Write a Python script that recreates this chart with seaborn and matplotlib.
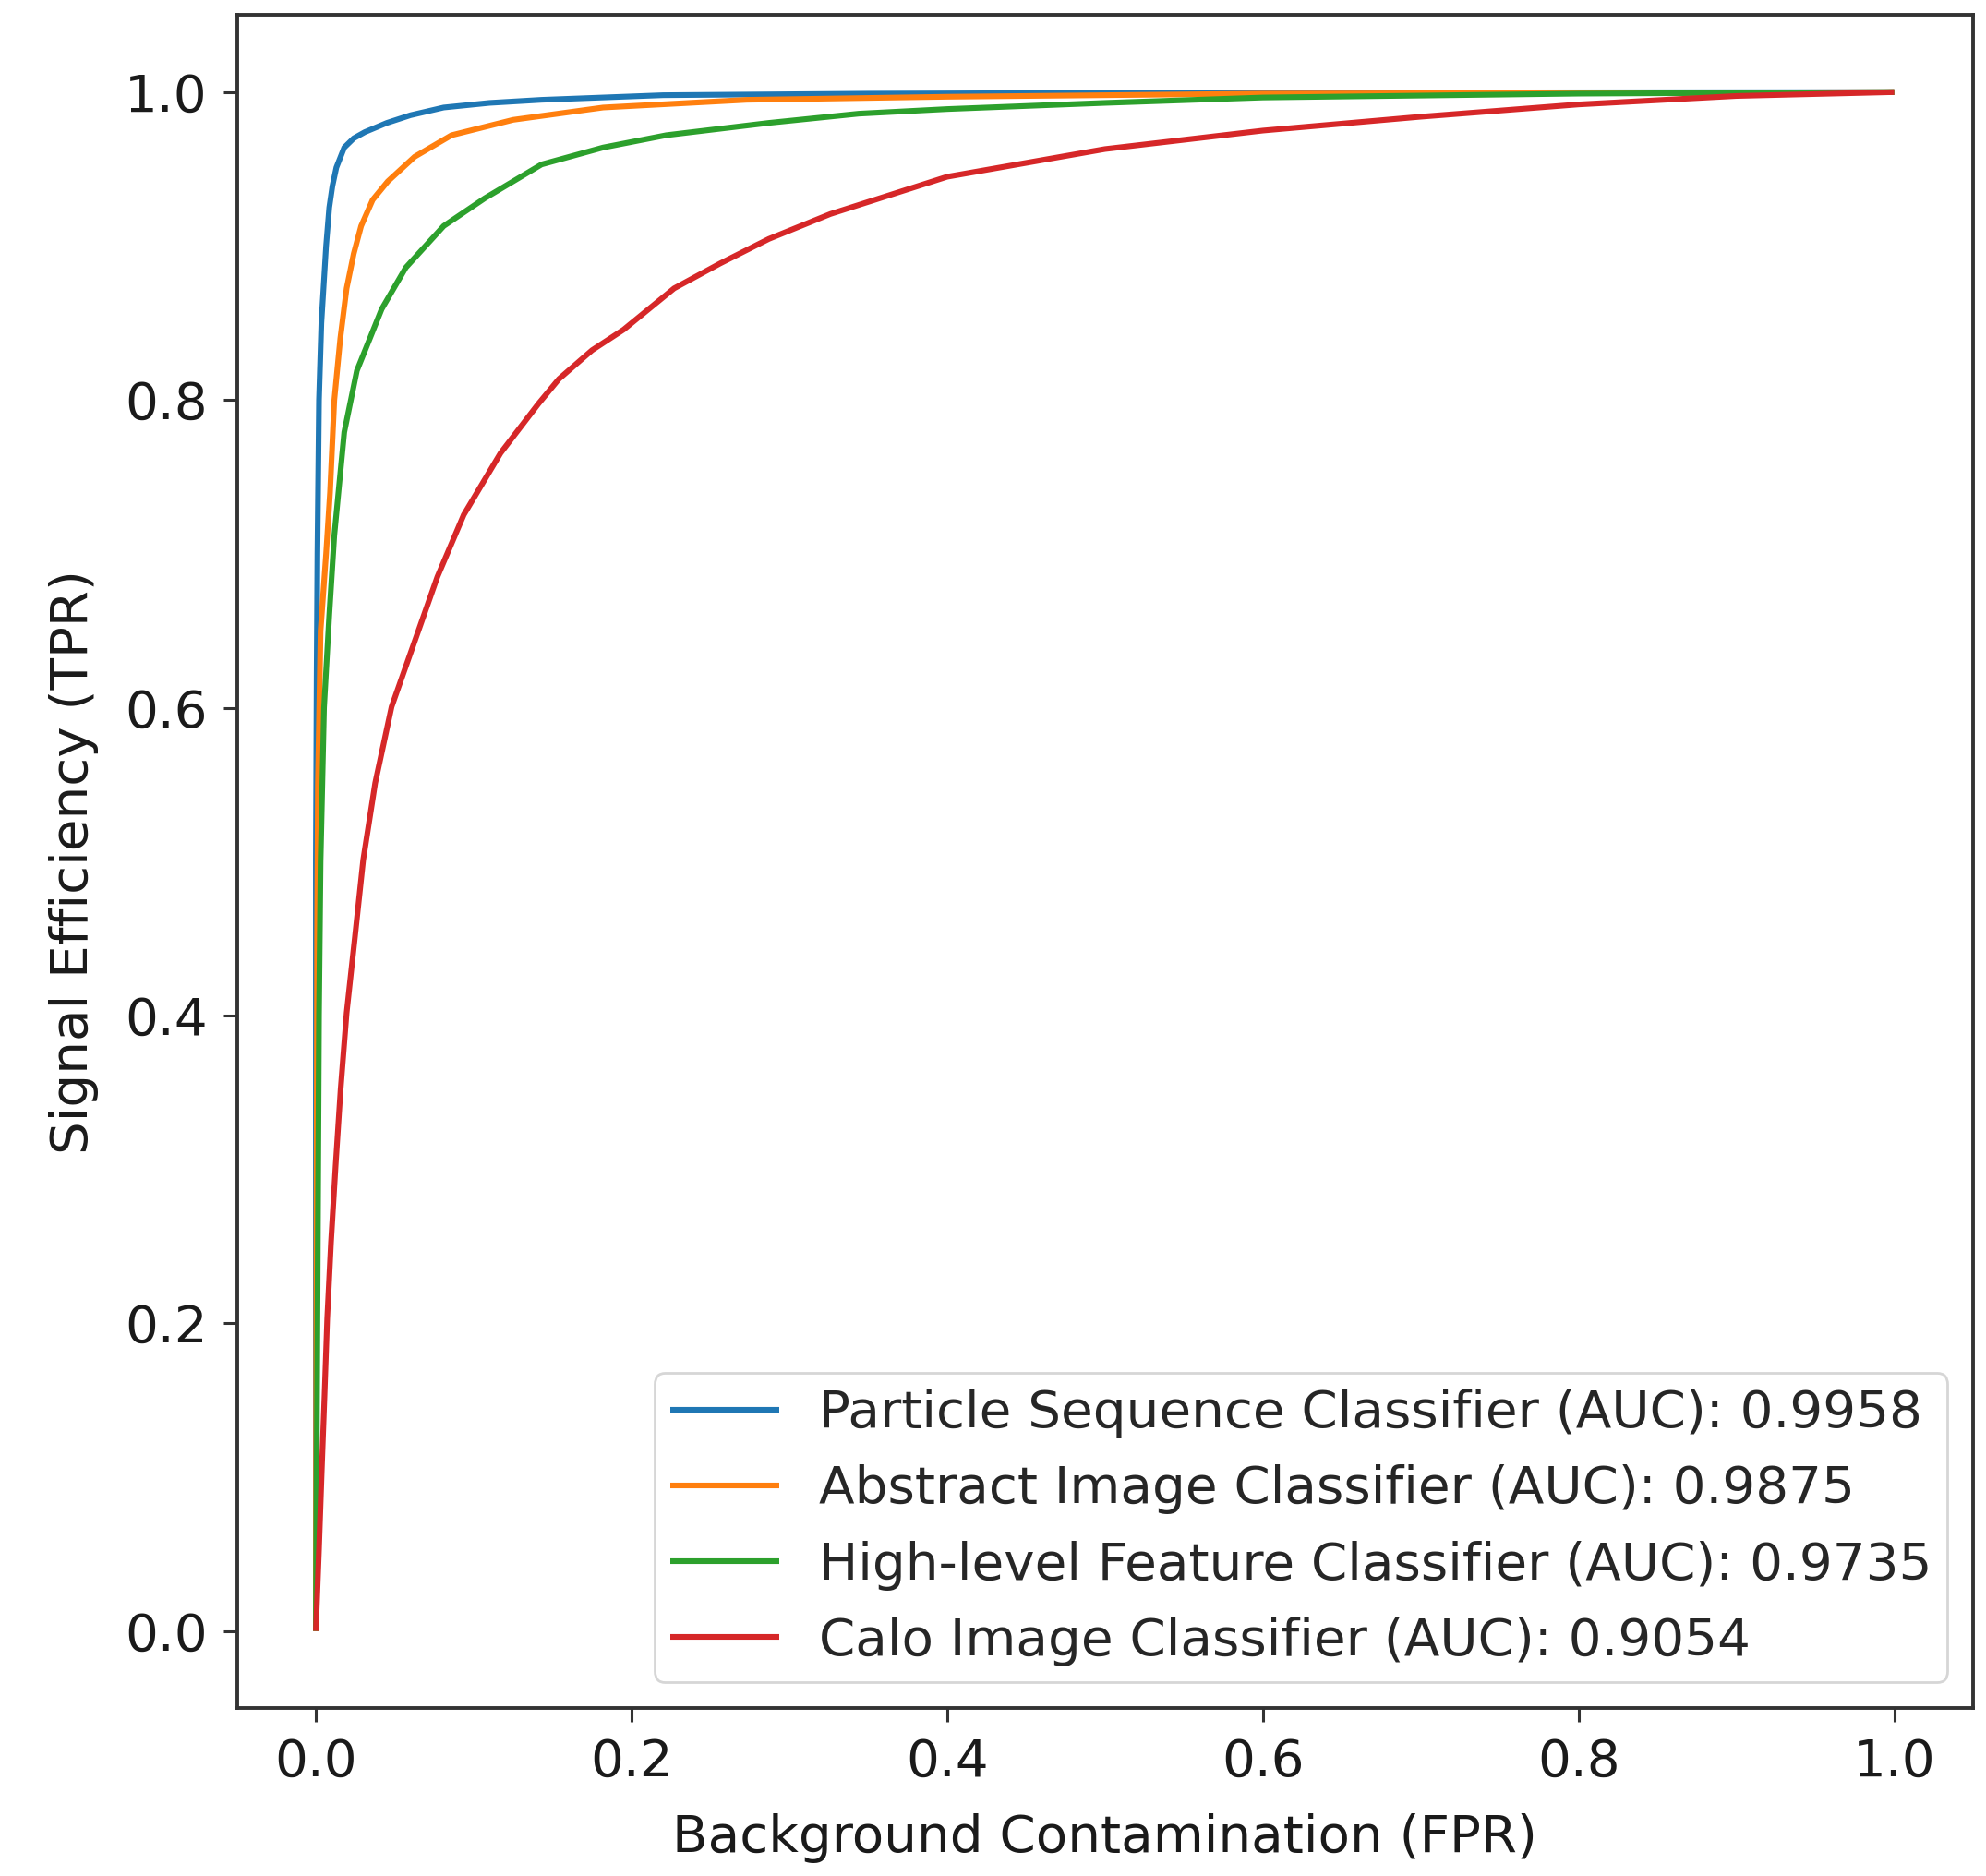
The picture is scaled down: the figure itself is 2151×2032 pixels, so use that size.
import numpy as np
import pandas as pd
import matplotlib
matplotlib.use("Agg")
import matplotlib.pyplot as plt
import seaborn as sns

# ---- data ----
labels = [
    "Particle Sequence Classifier (AUC): 0.9958",
    "Abstract Image Classifier (AUC): 0.9875",
    "High-level Feature Classifier (AUC): 0.9735",
    "Calo Image Classifier (AUC): 0.9054",
]
colors = ["#1f77b4", "#ff7f0e", "#2ca02c", "#d62728"]

fpr_seq = [0, 0.0, 0.0005, 0.001, 0.002, 0.0035, 0.0065, 0.0085, 0.0105, 0.013,
           0.018, 0.024, 0.031, 0.045, 0.060, 0.081, 0.11, 0.143, 0.22, 0.35,
           0.5, 0.7, 1.0]
tpr_seq = [0, 0.5, 0.62, 0.70, 0.80, 0.85, 0.90, 0.925, 0.939, 0.951,
           0.964, 0.970, 0.974, 0.980, 0.985, 0.990, 0.993, 0.995, 0.998, 0.999,
           0.9995, 0.9998, 1.0]

fpr_abs = [0, 0.0003, 0.0008, 0.0013, 0.003, 0.0065, 0.009, 0.0117, 0.0155, 0.0195,
           0.024, 0.0287, 0.036, 0.0456, 0.0626, 0.086, 0.125, 0.182, 0.273, 0.4,
           0.6, 0.8, 1.0]
tpr_abs = [0, 0.2, 0.45, 0.55, 0.65, 0.70, 0.74, 0.80, 0.84, 0.8725,
           0.895, 0.913, 0.930, 0.942, 0.958, 0.972, 0.982, 0.990, 0.995, 0.997,
           0.999, 0.9995, 1.0]

fpr_hl = [0, 0.0005, 0.001, 0.002, 0.003, 0.0052, 0.0085, 0.0117, 0.018, 0.026,
          0.0417, 0.057, 0.081, 0.107, 0.143, 0.182, 0.222, 0.287, 0.344, 0.4,
          0.5, 0.6, 0.8, 1.0]
tpr_hl = [0, 0.1, 0.2, 0.4, 0.5, 0.60, 0.66, 0.712, 0.779, 0.819,
          0.859, 0.886, 0.913, 0.931, 0.953, 0.964, 0.972, 0.980, 0.986, 0.989,
          0.993, 0.9965, 0.999, 1.0]

fpr_calo = [0, 0.002, 0.0037, 0.0055, 0.0072, 0.0096, 0.0125, 0.0157, 0.0195, 0.0248,
            0.030, 0.0376, 0.048, 0.065, 0.077, 0.0937, 0.117, 0.141, 0.154, 0.175,
            0.195, 0.227, 0.256, 0.287, 0.326, 0.4, 0.5, 0.6, 0.7, 0.8, 0.9, 1.0]
tpr_calo = [0, 0.053, 0.103, 0.153, 0.203, 0.2525, 0.302, 0.352, 0.4016, 0.4513,
            0.501, 0.551, 0.6006, 0.650, 0.685, 0.7253, 0.7654, 0.7975, 0.8136, 0.8323,
            0.8457, 0.8725, 0.8886, 0.9046, 0.9208, 0.945, 0.963, 0.975, 0.984, 0.992, 0.9975, 1.0]

series = [(fpr_seq, tpr_seq), (fpr_abs, tpr_abs), (fpr_hl, tpr_hl), (fpr_calo, tpr_calo)]

# ---- style ----
sns.set_style("ticks")
plt.rcParams["font.family"] = ["DejaVu Sans"]
edge = "#333333"
plt.rcParams.update({
    "axes.edgecolor": edge,
    "axes.linewidth": 1.4,
    "xtick.color": edge,
    "ytick.color": edge,
    "xtick.labelcolor": "#1a1a1a",
    "ytick.labelcolor": "#1a1a1a",
    "xtick.major.size": 5.5,
    "ytick.major.size": 5.5,
    "xtick.major.width": 1.1,
    "ytick.major.width": 1.1,
    "xtick.major.pad": 6,
    "ytick.major.pad": 6,
    "axes.labelcolor": "#1a1a1a",
    "lines.solid_capstyle": "butt",
})

fs = 20.3
fig = plt.figure(figsize=(2151 / 200, 2032 / 200), dpi=200)
ax = fig.add_axes([0.1193, 0.0896, 0.8742, 0.9023])

for (fx, ty), lab, col in zip(series, labels, colors):
    df = pd.DataFrame({"fpr": fx, "tpr": ty})
    sns.lineplot(data=df, x="fpr", y="tpr", ax=ax, color=col, label=lab,
                 estimator=None, sort=False, linewidth=2.2)

ax.set_xlim(-0.05, 1.05)
ax.set_ylim(-0.05, 1.05)
ax.set_xticks([0.0, 0.2, 0.4, 0.6, 0.8, 1.0])
ax.set_yticks([0.0, 0.2, 0.4, 0.6, 0.8, 1.0])
ax.tick_params(labelsize=fs)
ax.set_xlabel("Background Contamination (FPR)", fontsize=fs, labelpad=10)
ax.set_ylabel("Signal Efficiency (TPR)", fontsize=fs, labelpad=10)
for s in ax.spines.values():
    s.set_visible(True)

leg = ax.legend(loc="lower right", fontsize=fs, frameon=True, fancybox=True,
                edgecolor="#cccccc", framealpha=0.8, handlelength=2.1,
                borderpad=0.3, handletextpad=0.75)
leg.get_frame().set_linewidth(1.0)

fig.savefig("out.png", dpi=200)
